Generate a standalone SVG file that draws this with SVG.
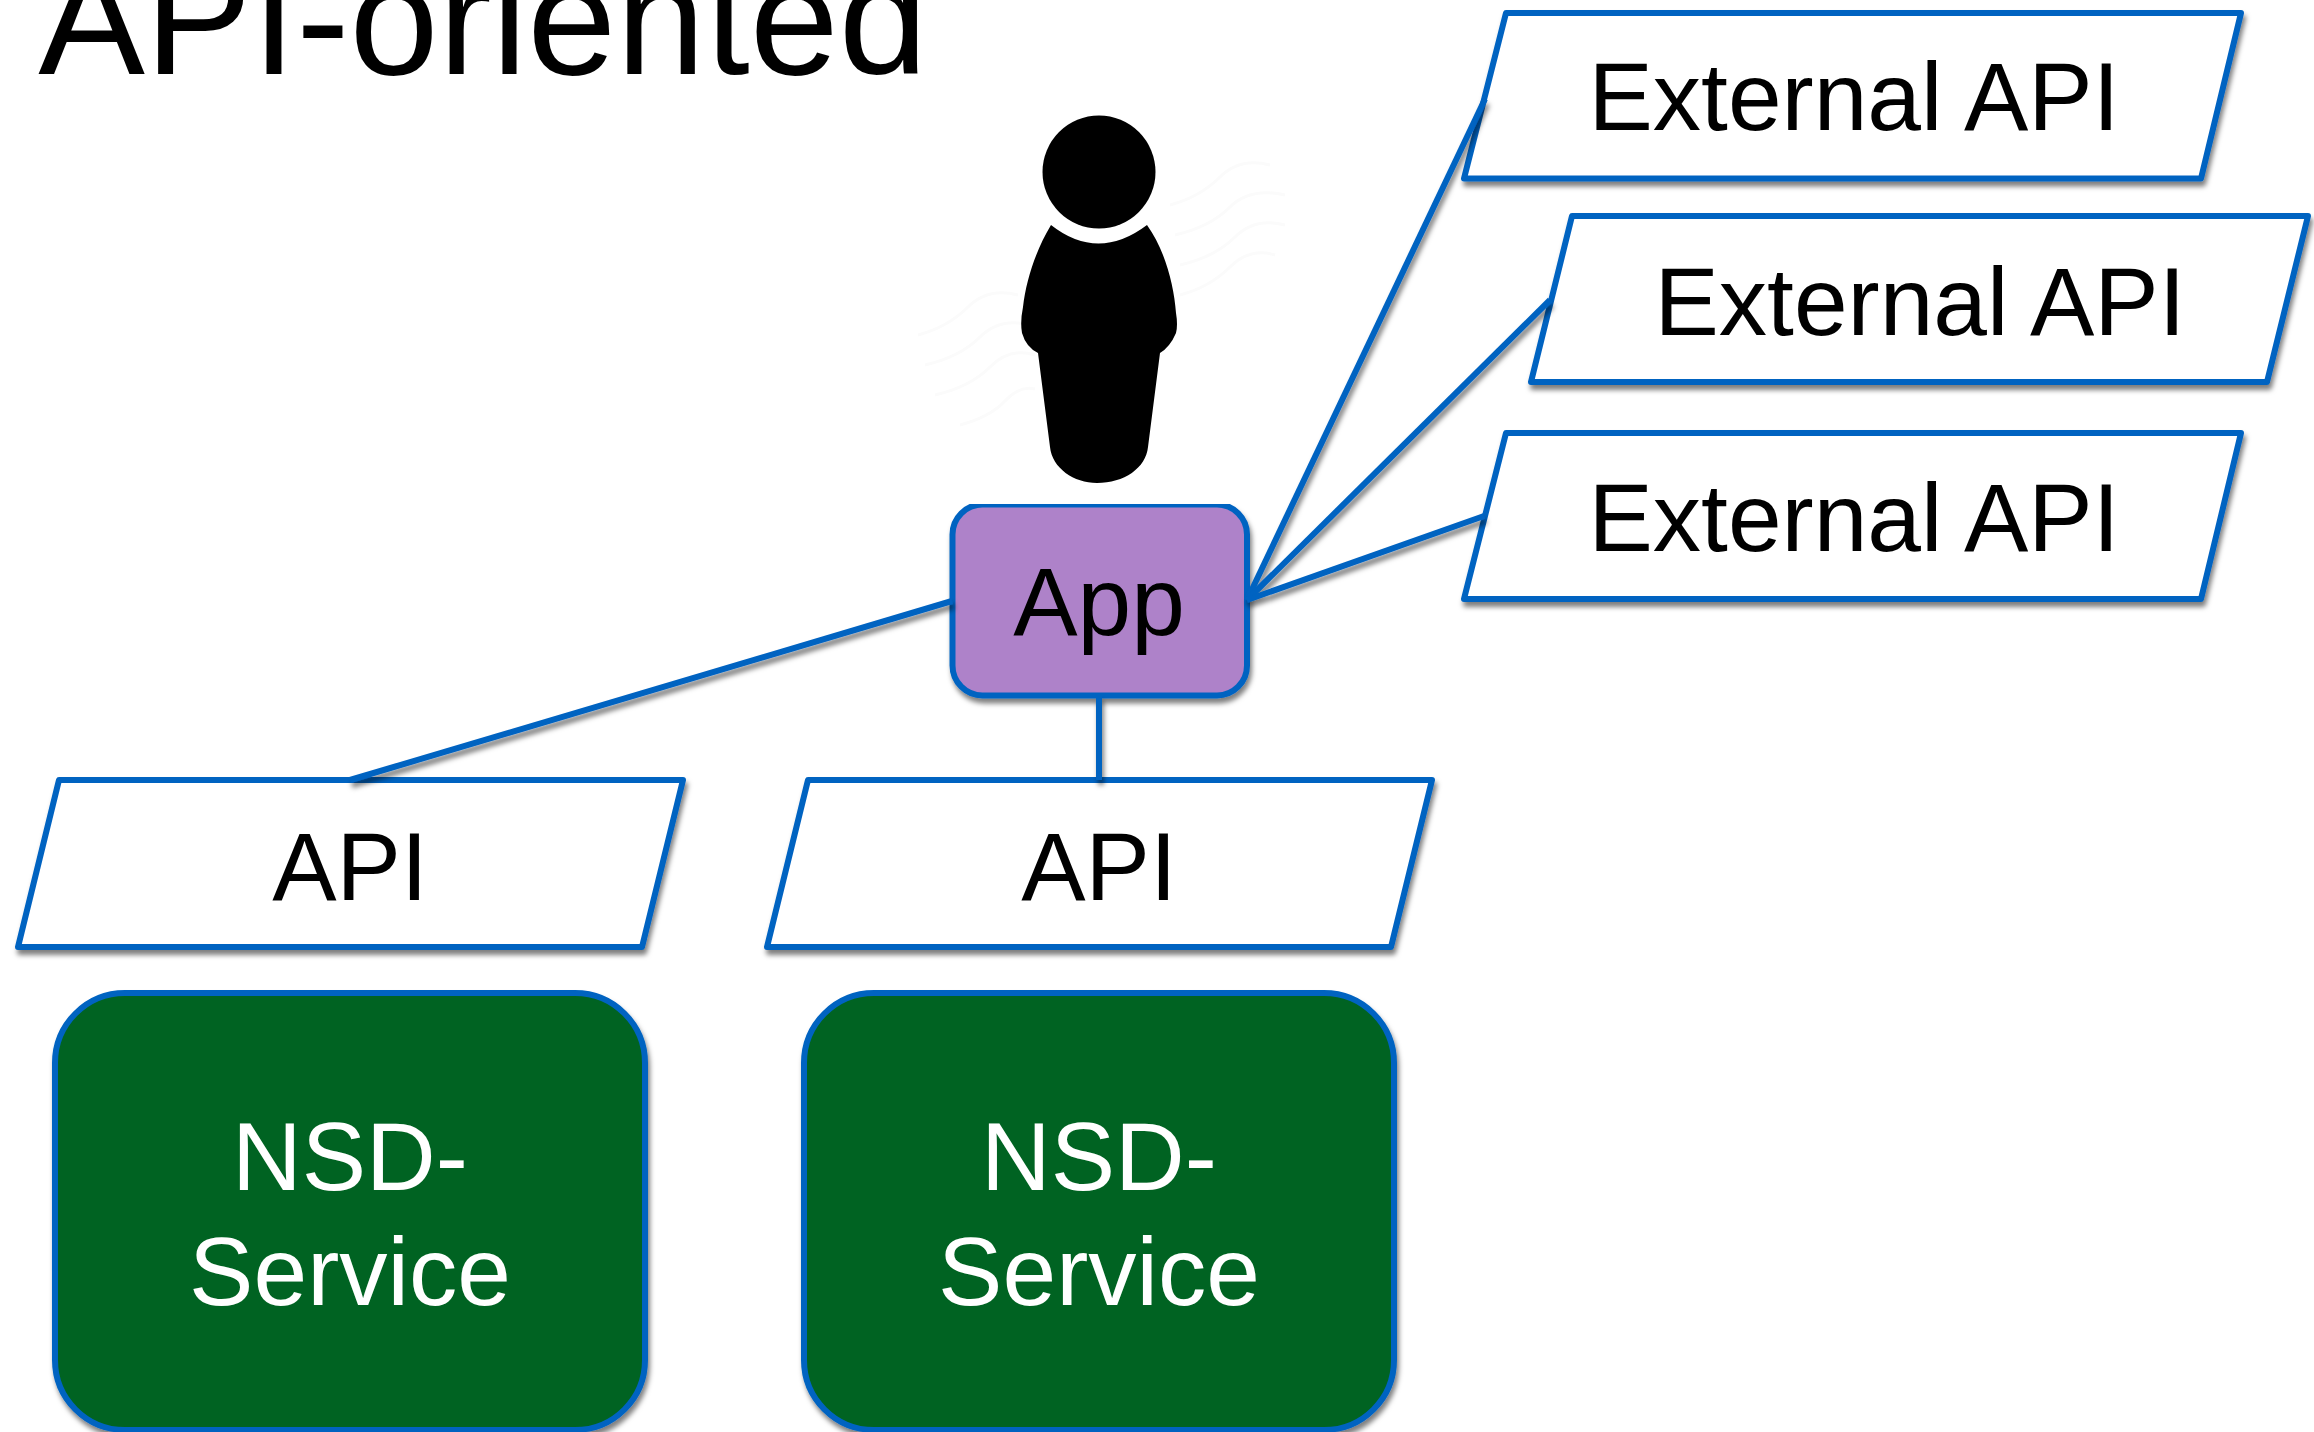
<svg xmlns="http://www.w3.org/2000/svg" width="2314" height="1432" viewBox="0 0 2314 1432">
<style>
text{font-family:"Liberation Sans",Arial,sans-serif;font-size:96.5px;text-anchor:middle;fill:#000}
.w{fill:#fff}
.p{fill:#fff;stroke:#0563c1;stroke-width:6;stroke-linejoin:round}
.c{fill:none;stroke:#0563c1;stroke-width:6}
.s{fill:#036421;stroke:#0563c1;stroke-width:6}
.m{fill:none;stroke:#fbfbfb;stroke-width:3}
</style>
<defs>
<filter id="sh" filterUnits="userSpaceOnUse" x="0" y="0" width="2314" height="1432">
<feDropShadow dx="2" dy="5" stdDeviation="2.5" flood-color="#000" flood-opacity="0.5"/>
</filter>
<clipPath id="appclip"><rect x="940" y="504" width="320" height="210"/></clipPath>
</defs>
<rect width="2314" height="1432" fill="#fff"/>
<text id="title" x="483" y="74" style="font-size:160px">API-oriented</text>
<g id="watermark">
<path class="m" d="M1170 205q30-8 50-28t50-12M1175 235q35-8 55-28t55-12M1180 265q35-8 55-28t50-12M1180 295q30-8 50-28t45-12"/>
<path class="m" d="M918 335q30-8 50-28t50-12M925 365q35-8 55-28t50-12M935 395q35-8 55-28t45-12M960 425q30-8 45-24t30-12"/>
</g>
<g id="person">
<circle cx="1099" cy="172" r="56.5" fill="#000"/>
<path fill="#000" d="M1051 225Q1098 262 1147 225C1165 250 1174 285 1176 313Q1178 325 1176 333Q1170 347 1160 353L1148 447C1146 468 1124 483 1097 483C1074 483 1052 468 1050 447L1038 353Q1026 347 1022 333Q1020 322 1023 307C1026 280 1036 250 1051 225Z"/>
</g>
<g id="ext1" filter="url(#sh)"><polygon class="p" points="1506,13 2241,13 2201,178.5 1464,178.5"/></g>
<g id="ext2" filter="url(#sh)"><polygon class="p" points="1572,216 2308,216 2267,382 1531,382"/></g>
<g id="ext3" filter="url(#sh)"><polygon class="p" points="1506,433 2241,433 2201,599 1464,599"/></g>
<g id="api1" filter="url(#sh)"><polygon class="p" points="59,780 683,780 642,947 18,947"/></g>
<g id="api2" filter="url(#sh)"><polygon class="p" points="808,780 1432,780 1391,947 767,947"/></g>
<g id="service1" filter="url(#sh)"><rect class="s" x="55" y="993" width="590" height="437" rx="70"/></g>
<g id="service2" filter="url(#sh)"><rect class="s" x="804" y="993" width="590" height="437" rx="70"/></g>
<g id="app" filter="url(#sh)"><g clip-path="url(#appclip)"><rect x="952.5" y="504.5" width="294.5" height="191" rx="30" fill="#ae82c9" stroke="#0563c1" stroke-width="6"/></g></g>
<g id="connectors" filter="url(#sh)">
<line class="c" x1="1247" y1="600" x2="1485" y2="99"/>
<line class="c" x1="1247" y1="600" x2="1550" y2="300"/>
<line class="c" x1="1247" y1="600" x2="1484" y2="516"/>
<line class="c" x1="952" y1="601" x2="350" y2="780"/>
<line class="c" x1="1099" y1="696" x2="1099" y2="780"/>
</g>
<g id="labels">
<text x="1854" y="130">External API</text>
<text x="1920" y="335">External API</text>
<text x="1854" y="551">External API</text>
<text x="1099" y="635">App</text>
<text x="350" y="900">API</text>
<text x="1099" y="900">API</text>
<text class="w" x="350" y="1190">NSD-</text>
<text class="w" x="350" y="1305">Service</text>
<text class="w" x="1099" y="1190">NSD-</text>
<text class="w" x="1099" y="1305">Service</text>
</g>
</svg>
